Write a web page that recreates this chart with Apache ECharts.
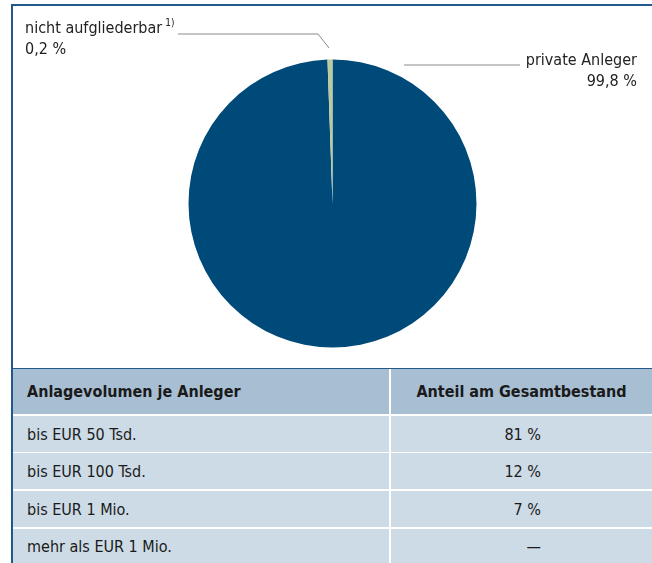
<!DOCTYPE html>
<html>
<head>
<meta charset="utf-8">
<script src="https://cdn.jsdelivr.net/npm/echarts@6/dist/echarts.min.js"></script>
<style>
  body { margin: 0; background: #fff; }
  #wrap { position: relative; width: 652px; height: 563px; overflow: hidden;
          font-family: "Liberation Sans Narrow", "DejaVu Sans Condensed", "Noto Sans", sans-serif; color: #1a1a1a; }
  #chart { position: absolute; left: 0; top: 0; width: 652px; height: 368px; }
  .frameTop { position: absolute; left: 12px; top: 4px; width: 640px; height: 2px; background: #22598a; }
  .frameLeft { position: absolute; left: 11px; top: 4px; width: 2px; height: 559px; background: #22598a; }
  .tblLine { position: absolute; left: 12px; top: 368px; width: 640px; height: 1px; background: #22598a; }
  .cell { position: absolute; box-sizing: border-box; font-size: 16px; display: flex; align-items: center; }
  .head { background: #a8bed2; font-weight: bold; }
  .row { background: #cddbe6; }
</style>
</head>
<body>
<div id="wrap">
  <div id="chart"></div>
  <div class="frameTop"></div>
  <div class="frameLeft"></div>
  <div class="tblLine"></div>
</div>
<script>
// Kreisdiagramm
var names = ['private Anleger', 'nicht aufgliederbar'];
var values = [99.8, 0.2];
var colors = ['#004a7a', '#bccaa0'];

// Tabelle
var tableHeader = ['Anlagevolumen je Anleger', 'Anteil am Gesamtbestand'];
var volumeClasses = ['bis EUR 50 Tsd.', 'bis EUR 100 Tsd.', 'bis EUR 1 Mio.', 'mehr als EUR 1 Mio.'];
var shares = ['81 %', '12 %', '7 %', '—'];

var FONT = '"Liberation Sans Narrow", "DejaVu Sans Condensed", "Noto Sans", sans-serif';

function fmt(v) {
  return v.toFixed(1).replace('.', ',') + ' %';
}

var myChart = echarts.init(document.getElementById('chart'));
var option = {
  animation: false,
  series: [
    {
      type: 'pie',
      center: [332.5, 203.5],
      radius: [0, 144],
      startAngle: 90,
      clockwise: true,
      minAngle: 2,
      silent: true,
      data: names.map(function (n, i) {
        return { name: n, value: values[i], itemStyle: { color: colors[i] } };
      }),
      label: {
        show: true,
        fontFamily: FONT,
        fontSize: 16,
        color: '#222',
        lineHeight: 21,
        formatter: function (p) {
          if (p.dataIndex === 1) {
            return '{a|' + p.name + '}{s|1)}\n{a|' + fmt(p.value) + '}';
          }
          return '{a|' + p.name + '}\n{a|' + fmt(p.value) + '}';
        },
        rich: {
          a: { fontFamily: FONT, fontSize: 16, color: '#222', lineHeight: 21 },
          s: { fontFamily: FONT, fontSize: 10, color: '#222', verticalAlign: 'top', lineHeight: 21, padding: [0, 0, 6, 3] }
        }
      },
      labelLine: {
        show: true,
        lineStyle: { color: '#8a8a8a', width: 1 }
      },
      labelLayout: function (params) {
        if (params.dataIndex === 1) {
          return {
            x: 25, y: 18, align: 'left', verticalAlign: 'top',
            labelLinePoints: [[329, 48], [318, 34], [178, 34]]
          };
        }
        return {
          x: 637, y: 50, align: 'right', verticalAlign: 'top',
          labelLinePoints: [[404, 65], [404, 65], [520, 65]]
        };
      }
    }
  ]
};
myChart.setOption(option);

// Tabelle aufbauen
var wrap = document.getElementById('wrap');
function addCell(text, cls, left, top, width, height, align, pad) {
  var d = document.createElement('div');
  d.className = 'cell ' + cls;
  d.style.left = left + 'px';
  d.style.top = top + 'px';
  d.style.width = width + 'px';
  d.style.height = height + 'px';
  d.style.justifyContent = align;
  if (pad) d.style.padding = pad;
  d.textContent = text;
  wrap.appendChild(d);
}
addCell(tableHeader[0], 'head', 13, 369, 376, 45, 'flex-start', '0 0 0 14px');
addCell(tableHeader[1], 'head', 391, 369, 261, 45, 'center', '0');
var tops = [416, 453, 491, 529];
volumeClasses.forEach(function (c, i) {
  var h = i === 3 ? 34 : 36;
  addCell(c, 'row', 13, tops[i], 376, h, 'flex-start', '0 0 0 14px');
  addCell(shares[i], 'row', 391, tops[i], 261, h, 'flex-end', '0 111px 0 0');
});

window.addEventListener('resize', function () {
  myChart.resize();
});
</script>
</body>
</html>
